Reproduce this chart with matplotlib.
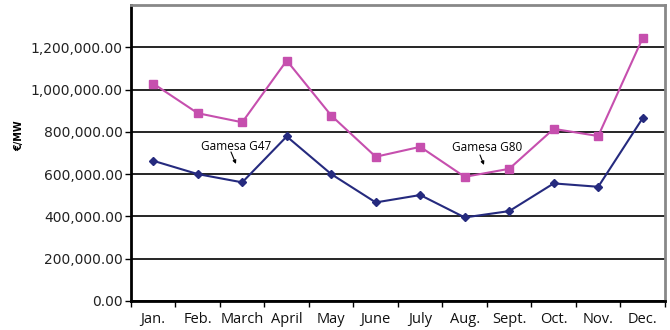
import matplotlib
matplotlib.use("Agg")
import matplotlib.pyplot as plt
import numpy as np

months = ["Jan.", "Feb.", "March", "April", "May", "June", "July",
          "Aug.", "Sept.", "Oct.", "Nov.", "Dec."]
g80 = [1028000, 888000, 845000, 1137000, 877000, 682000, 729000,
       587000, 625000, 814000, 780000, 1244000]
g47 = [663000, 600000, 561000, 778000, 600000, 466000, 501000,
       395000, 425000, 556000, 540000, 865000]
yticks = [0, 200000, 400000, 600000, 800000, 1000000, 1200000]

fig = plt.figure(figsize=(6.7, 3.3), dpi=100)
ax = fig.add_axes([0.1955, 0.088, 0.797, 0.897])

x = np.arange(len(months))
ax.plot(x, g80, color="#C64FAE", lw=1.5, marker="s", ms=5.5, zorder=3)
ax.plot(x, g47, color="#252A7E", lw=1.5, marker="D", ms=4, zorder=3)

ax.set_xlim(-0.5, len(months) - 0.5)
ax.set_ylim(0, 1400000)
ax.set_yticks(yticks)
ax.set_yticklabels([f"{v:,.2f}" for v in yticks], fontsize=10, color="#222222",
                   family="DejaVu Sans")
ax.yaxis.grid(True, color="black", lw=1.2)
ax.set_axisbelow(True)

ax.set_xticks(x)
ax.set_xticklabels(months, fontsize=10.5, family="Open Sans", color="#111111")
ax.set_xticks(np.arange(-0.5, len(months)), minor=True)
ax.tick_params(axis="x", which="major", length=0, pad=8)
ax.tick_params(axis="x", which="minor", length=4, width=1, color="black")
ax.tick_params(axis="y", length=4, width=1, pad=2)

for s in ["left", "bottom"]:
    ax.spines[s].set_color("black")
    ax.spines[s].set_linewidth(2)
for s in ["top", "right"]:
    ax.spines[s].set_color("#888888")
    ax.spines[s].set_linewidth(2)

ax.set_ylabel("€/MW", fontsize=7, fontweight="bold")
ax.yaxis.set_label_coords(-0.200, 0.56)

# annotation positions in figure-pixel terms (x from left, y from top)
for txt, tx, ty, a0, a1 in [("Gamesa G47", 236, 147, (231, 152), (236, 164)),
                            ("Gamesa G80", 487, 148, (480, 155), (484, 165))]:
    ax.annotate(txt, xy=(tx - 131, 301 - ty), xycoords="axes pixels",
                ha="center", va="center", fontsize=8.5, family="Open Sans")
    ax.annotate("", xy=(a1[0] - 131, 301 - a1[1]), xycoords="axes pixels",
                xytext=(a0[0] - 131, 301 - a0[1]), textcoords="axes pixels",
                arrowprops=dict(arrowstyle="-|>", lw=0.8, color="black",
                                mutation_scale=5, shrinkA=0, shrinkB=0))

fig.savefig("out.png", dpi=100)
